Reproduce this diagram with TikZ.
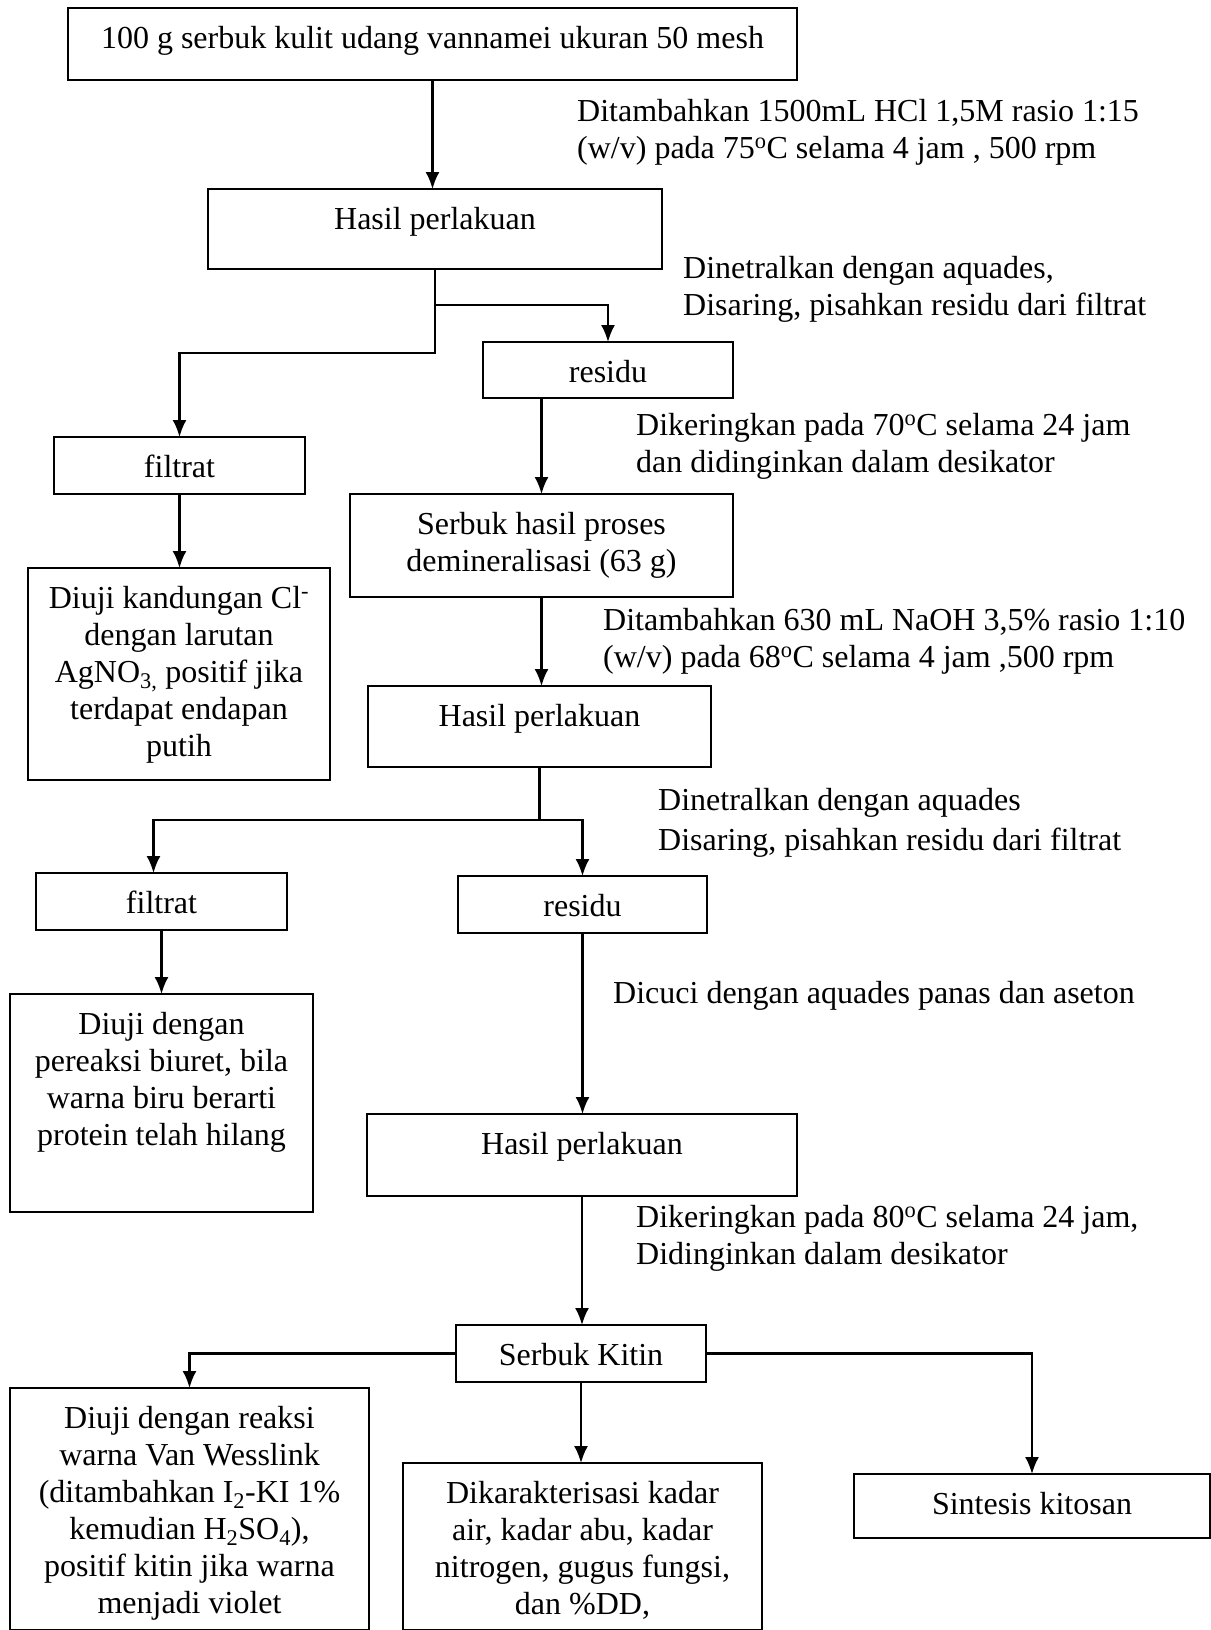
\documentclass[tikz,border=0pt]{standalone}
\usepackage{fontspec}
\setmainfont{Liberation Serif}
\usetikzlibrary{arrows.meta,calc}
% text block of a box: fixed size, first baseline 40pt below the top edge
\newcommand\bxt[3]{\parbox[c][#2pt][t]{#1pt}{\centering\rule{0pt}{40pt}#3}}
% side notes next to the arrows, left aligned
\newcommand\notetext[1]{\parbox[t]{640pt}{\raggedright #1}}
\begin{document}
\begin{tikzpicture}[x=1pt, y=-1pt,
  font=\fontsize{32}{37}\selectfont,
  box/.style={draw, line width=2.2pt, inner sep=0pt, outer sep=0pt, anchor=north west},
  arr/.style={line width=2.2pt, -{Latex[length=17pt,width=14pt]}},
  note/.style={inner sep=0pt, anchor=base west}]
\useasboundingbox (0,0) rectangle (1210,1630);

% boxes
\node[box] (top) at (68,8) {\bxt{729}{72}{100 g serbuk kulit udang vannamei ukuran 50 mesh}};
\node[box] (hasil1) at (208,189) {\bxt{454}{80}{Hasil perlakuan}};
\node[box] (residu1) at (483,342) {\bxt{250}{56}{residu}};
\node[box] (filtrat1) at (54,437) {\bxt{251}{57}{filtrat}};
\node[box] (serbuk) at (350,494) {\bxt{383}{103}{Serbuk hasil proses\\demineralisasi (63 g)}};
\node[box] (diuji1) at (28,568) {\bxt{302}{212}{Diuji kandungan Cl\textsuperscript{-}\\dengan larutan\\AgNO\textsubscript{3,} positif jika\\terdapat endapan\\putih}};
\node[box] (hasil2) at (368,686) {\bxt{343}{81}{Hasil perlakuan}};
\node[box] (filtrat2) at (36,873) {\bxt{251}{57}{filtrat}};
\node[box] (residu2) at (458,876) {\bxt{249}{57}{residu}};
\node[box] (diuji2) at (10,994) {\bxt{303}{218}{Diuji dengan\\pereaksi biuret, bila\\warna biru berarti\\protein telah hilang}};
\node[box] (hasil3) at (367,1114) {\bxt{430}{82}{Hasil perlakuan}};
\node[box] (kitin) at (456,1325) {\bxt{250}{57}{Serbuk Kitin}};
\node[box] (diuji3) at (10,1388) {\bxt{359}{242}{Diuji dengan reaksi\\warna Van Wesslink\\(ditambahkan I\textsubscript{2}-KI 1\%\\kemudian H\textsubscript{2}SO\textsubscript{4}),\\positif kitin jika warna\\menjadi violet}};
\node[box] (karakter) at (403,1463) {\bxt{359}{167}{Dikarakterisasi kadar\\air, kadar abu, kadar\\nitrogen, gugus fungsi,\\dan \%DD,}};
\node[box] (sintesis) at (854,1474) {\bxt{356}{64}{Sintesis kitosan}};

% connectors
\draw[arr] (top.south) -- (top.south |- hasil1.north);
\draw[arr] (hasil1.south) -- ++(0,36) -| (residu1.north);
\draw[arr] (hasil1.south) -- ++(0,84) -| (filtrat1.north);
\draw[arr] (residu1.south -| serbuk.north) -- (serbuk.north);
\draw[arr] (filtrat1.south) -- (filtrat1.south |- diuji1.north);
\draw[arr] (serbuk.south) -- (serbuk.south |- hasil2.north);
\draw[arr] (hasil2.south) -- ++(0,53) -| ($(filtrat2.north)+(-8,0)$);
\draw[arr] (hasil2.south) -- ++(0,53) -| (residu2.north);
\draw[arr] (filtrat2.south) -- (filtrat2.south |- diuji2.north);
\draw[arr] (residu2.south) -- (residu2.south |- hasil3.north);
\draw[arr] (hasil3.south) -- (hasil3.south |- kitin.north);
\draw[arr] (kitin.west) -| (diuji3.north);
\draw[arr] (kitin.south) -- (kitin.south |- karakter.north);
\draw[arr] (kitin.east) -| (sintesis.north);

% process notes
\node[note] (n1) at (577,121) {\notetext{Ditambahkan 1500mL HCl 1,5M rasio 1:15\\(w/v) pada 75\textsuperscript{o}C selama 4 jam , 500 rpm}};
\node[note] (n2) at (683,278) {\notetext{Dinetralkan dengan aquades,\\Disaring, pisahkan residu dari filtrat}};
\node[note] (n3) at (636,435) {\notetext{Dikeringkan pada 70\textsuperscript{o}C selama 24 jam\\dan didinginkan dalam desikator}};
\node[note] (n4) at (603,630) {\notetext{Ditambahkan 630 mL NaOH 3,5\% rasio 1:10\\(w/v) pada 68\textsuperscript{o}C selama 4 jam ,500 rpm}};
\node[note] (n5) at (658,810) {\notetext{Dinetralkan dengan aquades\\[3pt]Disaring, pisahkan residu dari filtrat}};
\node[note] (n6) at (613,1003) {Dicuci dengan aquades panas dan aseton};
\node[note] (n7) at (636,1227) {\notetext{Dikeringkan pada 80\textsuperscript{o}C selama 24 jam,\\Didinginkan dalam desikator}};
\end{tikzpicture}
\end{document}
